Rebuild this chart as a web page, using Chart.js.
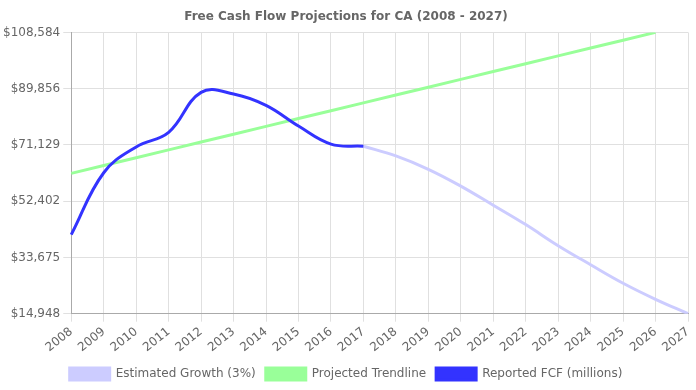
<!DOCTYPE html>
<html>
<head>
<meta charset="utf-8">
<script src="https://cdn.jsdelivr.net/npm/chart.js@4/dist/chart.umd.min.js"></script>
<style>
  html, body { margin: 0; padding: 0; background: #fff; }
  #wrap { width: 696px; height: 390px; }
</style>
</head>
<body>
<div id="wrap"><canvas id="fcfChart"></canvas></div>
<script>
const years = ['2008', '2009', '2010', '2011', '2012', '2013', '2014', '2015', '2016', '2017',
    '2018', '2019', '2020', '2021', '2022', '2023', '2024', '2025', '2026', '2027'];

const reportedFcf = [41269, 61868, 70462, 75300, 88620, 88085, 84300, 77400, 71400, 70700,
    null, null, null, null, null, null, null, null, null, null];

const estimatedGrowth = [null, null, null, null, null, null, null, null, null, 70700,
    67453, 63005, 57421, 51067, 44612, 37590, 31237, 25084, 19734, 14948];

const trendline = [61668, 64274, 66881, 69487, 72094, 74700, 77306, 79913, 82519, 85126,
    87732, 90338, 92945, 95551, 98158, 100764, 103370, 105977, 108584, null];

const yMin = 14948;
const yMax = 108584;

Chart.defaults.font.family = "'DejaVu Sans', sans-serif";
Chart.defaults.font.size = 12;
Chart.defaults.color = '#666';

new Chart(document.getElementById('fcfChart'), {
    type: 'line',
    data: {
        labels: years,
        datasets: [
            {
                label: 'Estimated Growth (3%)',
                data: estimatedGrowth,
                borderColor: '#ccccff',
                backgroundColor: '#ccccff',
                borderWidth: 3,
                pointRadius: 0,
                tension: 0.4,
                fill: false,
                order: 2
            },
            {
                label: 'Projected Trendline',
                data: trendline,
                borderColor: '#99ff99',
                backgroundColor: '#99ff99',
                borderWidth: 3,
                pointRadius: 0,
                tension: 0,
                fill: false,
                order: 1
            },
            {
                label: 'Reported FCF (millions)',
                data: reportedFcf,
                borderColor: '#3333ff',
                backgroundColor: '#3333ff',
                borderWidth: 3,
                pointRadius: 0,
                tension: 0.4,
                fill: false,
                order: 0
            }
        ]
    },
    options: {
        responsive: true,
        maintainAspectRatio: false,
        animation: false,
        layout: { padding: { top: 0, right: 4, bottom: 0, left: 0 } },
        plugins: {
            title: {
                display: true,
                text: 'Free Cash Flow Projections for CA (2008 - 2027)',
                font: { size: 12, weight: 'bold' },
                color: '#666',
                padding: { top: 10, bottom: 8 }
            },
            legend: {
                position: 'bottom',
                labels: {
                    boxWidth: 40,
                    boxHeight: 12,
                    sort: (a, b) => a.datasetIndex - b.datasetIndex
                }
            },
            tooltip: { enabled: false }
        },
        scales: {
            x: {
                grid: { color: '#e0e0e0' },
                border: { color: '#aaa' },
                ticks: { autoSkip: false, maxRotation: 50 },
                afterFit: function(scale) {
                    scale.paddingRight = Math.max(0, scale.paddingRight - 4);
                }
            },
            y: {
                min: yMin,
                max: yMax,
                grid: { color: '#e0e0e0' },
                border: { color: '#aaa' },
                afterBuildTicks: function(axis) {
                    const step = (yMax - yMin) / 5;
                    const ticks = [];
                    for (let i = 0; i <= 5; i++) {
                        ticks.push({ value: yMin + step * i });
                    }
                    axis.ticks = ticks;
                },
                ticks: {
                    callback: function(value) {
                        return '$' + Math.floor(value).toLocaleString('en-US');
                    }
                }
            }
        }
    }
});
</script>
</body>
</html>
